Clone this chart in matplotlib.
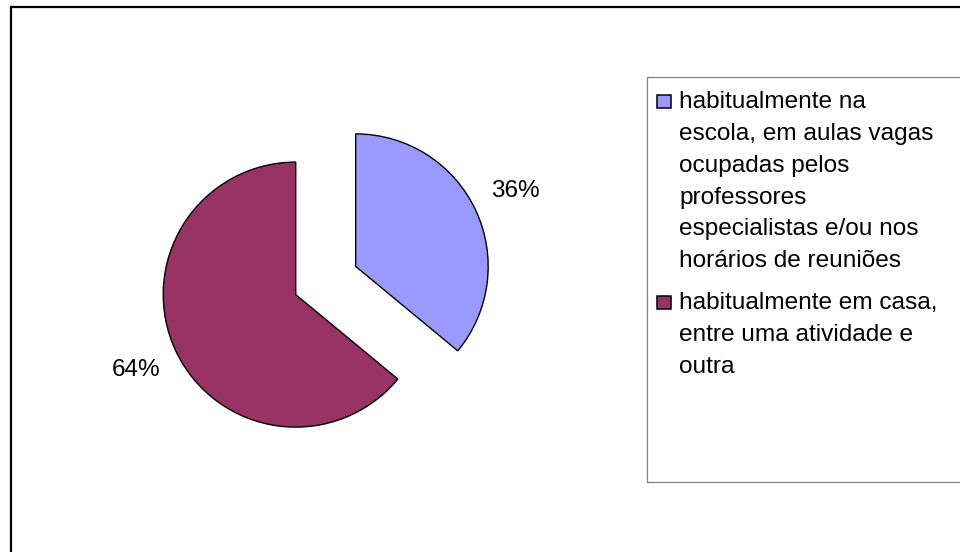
import textwrap
import matplotlib
matplotlib.use("Agg")
import matplotlib.pyplot as plt
from matplotlib.patches import Rectangle

# ---- data ----
categories = [
    "habitualmente na escola, em aulas vagas ocupadas pelos professores especialistas e/ou nos horários de reuniões",
    "habitualmente em casa, entre uma atividade e outra",
]
values = [36, 64]
colors = ["#9999FF", "#993366"]
explode = [0.25, 0.25]

W, H = 960, 552
fig = plt.figure(figsize=(W / 100, H / 100), dpi=100)
fig.patch.set_facecolor("white")
plt.rcParams["font.family"] = ["Liberation Sans", "DejaVu Sans"]

def fx(px):
    return px / W

def fy(py_top):
    return (H - py_top) / H

# outer chart border (extends beyond right/bottom)
fig.patches.append(Rectangle((fx(11), -0.1), 1.2, fy(7) + 0.1, transform=fig.transFigure,
                             fill=False, edgecolor="black", linewidth=1.6, clip_on=False))

# pie axes: 1 data unit = 132.5 px, pie centre at (325.7, 280.5) px
scale = 132.5
cx, cy = 325.7, 280.5
ax_l, ax_r, ax_b, ax_t = 100, 560, 80, 480  # pixel box (top-origin y)
ax = fig.add_axes([fx(ax_l), fy(ax_t), (ax_r - ax_l) / W, (ax_t - ax_b) / H])
wedges, texts, autotexts = ax.pie(
    values, colors=colors, explode=explode, startangle=90, counterclock=False,
    autopct="%.0f%%", pctdistance=1.33, radius=1,
    wedgeprops=dict(edgecolor="black", linewidth=1.0),
    textprops=dict(fontsize=17.5, color="black"),
)
ax.set_xlim((ax_l - cx) / scale, (ax_r - cx) / scale)
ax.set_ylim((cy - ax_t) / scale, (cy - ax_b) / scale)
ax.set_aspect("auto")
ax.axis("off")

# legend frame
lg_left, lg_top, lg_bottom = 647, 77.3, 481.7
fig.patches.append(Rectangle((fx(lg_left), fy(lg_bottom)), 1.0, (lg_bottom - lg_top) / H,
                             transform=fig.transFigure, fill=False, edgecolor="#808080",
                             linewidth=0.9, clip_on=False))

# legend entries
line_px = 31.8
gap_px = 42
baseline = 108.3
for lab, col in zip(categories, colors):
    lines = textwrap.wrap(lab, width=22)
    fig.patches.append(Rectangle((fx(657), fy(baseline)), 14 / W, 13 / H,
                                 transform=fig.transFigure, facecolor=col,
                                 edgecolor="black", linewidth=1.1))
    for i, ln in enumerate(lines):
        fig.text(fx(679.3), fy(baseline + i * line_px), ln, fontsize=17.6,
                 ha="left", va="baseline", color="black")
    baseline += (len(lines) - 1) * line_px + gap_px

fig.savefig("out.png", dpi=100, facecolor="white")
